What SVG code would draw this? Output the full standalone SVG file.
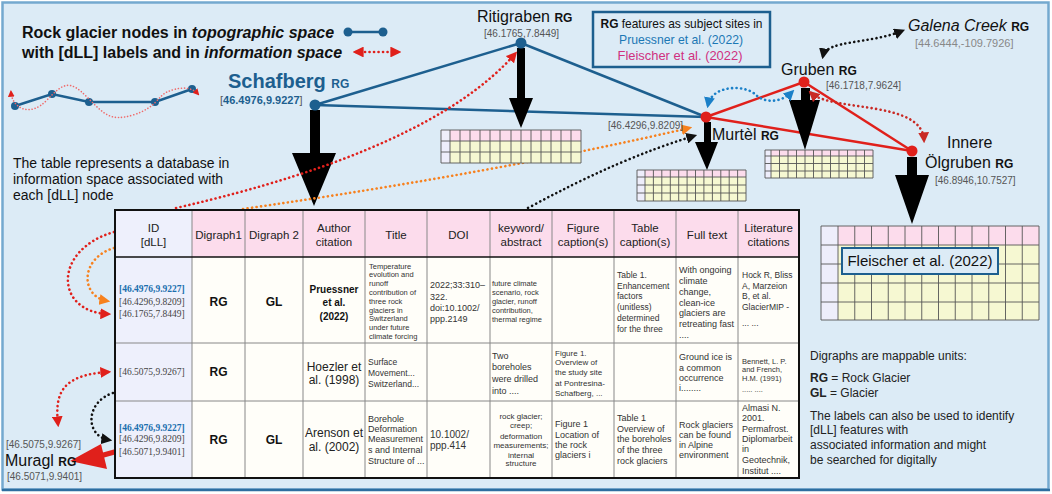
<svg xmlns="http://www.w3.org/2000/svg" width="1052" height="494" viewBox="0 0 1052 494">
<defs>
<style>
.s{font-family:"Liberation Sans",Arial,Helvetica,sans-serif}
.sf{font-family:"Liberation Serif","Times New Roman",serif}
.b{font-weight:bold}
.it{font-style:italic}
.blue{fill:#1d5f8f}
.gray{fill:#555}
.lg{fill:#888}
.eb{stroke:#1d5f8f;stroke-width:2.5;fill:none}
.er{stroke:#e0201b;stroke-width:2.5;fill:none}
.dot{fill:none;stroke-width:2.6;stroke-dasharray:0.1 4.4;stroke-linecap:round}
.dr{stroke:#e0201b}
.dr2{stroke:#c92a25}
.do{stroke:#f7811e}
.dk{stroke:#111}
.db{stroke:#1b80c8}
.grid{stroke:#555;stroke-width:0.9;fill:none}
.tl{stroke:#888;stroke-width:1;fill:none}
.hd{font-size:11.5px;fill:#222}
.t75{font-size:7.5px;fill:#333}
.t8{font-size:8px;fill:#333}
.t85{font-size:8.5px;fill:#333}
.t9{font-size:9px;fill:#333}
.id{font-size:9.5px;fill:#444}
.idb{font-size:9.5px;fill:#1b6fae;font-weight:bold}
.big{font-size:12px;font-weight:bold;fill:#111}
.lbl{font-size:16px;fill:#111}
.rg{font-size:12px;font-weight:bold}
.crd{font-size:10px;fill:#555}
</style>
<marker id="mr" viewBox="0 0 10 10" refX="7" refY="5" markerWidth="4.2" markerHeight="4.2" orient="auto-start-reverse"><path d="M0,0L10,5L0,10z" fill="#e0201b"/></marker>
<marker id="mr2" viewBox="0 0 10 10" refX="7" refY="5" markerWidth="4.2" markerHeight="4.2" orient="auto-start-reverse"><path d="M0,0L10,5L0,10z" fill="#c92a25"/></marker>
<marker id="mo" viewBox="0 0 10 10" refX="7" refY="5" markerWidth="4.2" markerHeight="4.2" orient="auto-start-reverse"><path d="M0,0L10,5L0,10z" fill="#f7811e"/></marker>
<marker id="mk" viewBox="0 0 10 10" refX="7" refY="5" markerWidth="4.2" markerHeight="4.2" orient="auto-start-reverse"><path d="M0,0L10,5L0,10z" fill="#111"/></marker>
<marker id="mb" viewBox="0 0 10 10" refX="7" refY="5" markerWidth="4.2" markerHeight="4.2" orient="auto-start-reverse"><path d="M0,0L10,5L0,10z" fill="#1b80c8"/></marker>
</defs>

<!-- background / frame -->
<rect x="0" y="0" width="1052" height="494" fill="#ffffff"/>
<rect x="2.5" y="2.5" width="1046" height="487" fill="#dcebf6" stroke="#74a9cf" stroke-width="2.5"/>
<line x1="2" y1="490" x2="1050" y2="490" stroke="#2d6ea0" stroke-width="2.5"/>

<!-- legend -->
<g id="legend">
<text class="s b" x="22" y="38" font-size="16" fill="#111">Rock glacier nodes in <tspan class="it">topographic space</tspan></text>
<text class="s b" x="22" y="58" font-size="16" fill="#111">with [dLL] labels and in <tspan class="it">information space</tspan></text>
<line x1="348" y1="32" x2="383" y2="32" class="eb"/>
<circle cx="348" cy="32" r="4.5" fill="#1d5f8f"/>
<circle cx="383" cy="32" r="4.5" fill="#1d5f8f"/>
<line x1="356" y1="52" x2="398" y2="52" class="dot dr" marker-start="url(#mr)" marker-end="url(#mr)"/>
<polyline points="15,106 52,94 89,102 155,102 192,89" class="eb"/>
<circle cx="15" cy="106" r="4" fill="#1d5f8f"/><circle cx="52" cy="94" r="4" fill="#1d5f8f"/><circle cx="89" cy="102" r="4" fill="#1d5f8f"/><circle cx="155" cy="102" r="4" fill="#1d5f8f"/><circle cx="192" cy="89" r="4" fill="#1d5f8f"/>
<path d="M11,92 C12,108 30,118 47,100 S70,80 87,97 S110,122 133,115 S158,96 167,92 S190,85 198,94" fill="none" stroke="#f06a6a" stroke-width="1.6" stroke-dasharray="0.1 3" stroke-linecap="round" marker-start="url(#mr)" marker-end="url(#mr)"/>
<text class="s" font-size="14" fill="#111"><tspan x="13" y="168">The table represents a database in</tspan><tspan x="13" y="184">information space associated with</tspan><tspan x="13" y="200">each [dLL] node</tspan></text>
</g>

<!-- subject sites box -->
<g id="sites-box">
<rect x="593" y="12" width="177" height="55" fill="#dcebf6" stroke="#1d5f8f" stroke-width="2.5"/>
<text class="s" font-size="13" fill="#111" x="681.5" y="28" text-anchor="middle" textLength="162" lengthAdjust="spacingAndGlyphs"><tspan class="b">RG</tspan> features as subject sites in</text>
<text class="s" font-size="13" fill="#1b78b5" x="681" y="44" text-anchor="middle" textLength="124" lengthAdjust="spacingAndGlyphs">Pruessner et al. (2022)</text>
<text class="s" font-size="13" fill="#d0307f" x="680" y="60" text-anchor="middle" textLength="125" lengthAdjust="spacingAndGlyphs">Fleischer et al. (2022)</text>
</g>

<!-- connectors -->
<g id="connectors">
<line x1="315" y1="105" x2="521" y2="43" class="eb"/>
<line x1="521" y1="43" x2="706" y2="117" class="eb"/>
<line x1="315" y1="105" x2="706" y2="117" class="eb"/>
<line x1="706" y1="117" x2="804" y2="82" class="er"/>
<line x1="804" y1="82" x2="912" y2="151" class="er"/>
<line x1="706" y1="117" x2="912" y2="151" class="er"/>
<!-- big black arrows -->
<g fill="#000">
<polygon points="310,110 320,110 320,153 336,153 314,206 292,153 310,153"/>
<polygon points="517,48 525,48 525,98 533,98 521,128 509,98 517,98"/>
<polygon points="704,122 711,122 711,142 718,142 707,170 695,142 704,142"/>
<polygon points="801,88 810,88 810,100 820,100 805,150 789,100 801,100"/>
<polygon points="907,157 917,157 917,175 929,175 912,224 895,175 907,175"/>
</g>
<!-- dotted info links -->
<path d="M176,208 Q430,150 515,54" class="dot dr" marker-end="url(#mr)"/>
<path d="M243,209 Q500,172 689,128" class="dot do" marker-end="url(#mo)"/>
<path d="M528,208 Q620,158 694,136" class="dot dk" marker-end="url(#mk)"/>
<path d="M708,105 C712,85 745,84 756,95 C766,104 782,102 792,92" class="dot db" marker-start="url(#mb)" marker-end="url(#mb)"/>
<path d="M811,93 C832,112 922,100 924,140" class="dot dr2" marker-start="url(#mr2)" marker-end="url(#mr2)"/>
<path d="M823,56 C826,40 870,44 902,31" class="dot dk" marker-start="url(#mk)" marker-end="url(#mk)"/>
<path d="M114,232 C52,250 55,312 108,314" class="dot dr" marker-end="url(#mr)"/>
<path d="M114,248 C80,258 80,296 107,301" class="dot do" marker-end="url(#mo)"/>
<path d="M108,372 C60,375 55,395 58,424" class="dot dr" marker-start="url(#mr)" marker-end="url(#mr)"/>
<path d="M113,393 C85,402 85,436 109,440" class="dot dk" marker-end="url(#mk)"/>
<!-- Muragl red arrow -->
<line x1="118" y1="451" x2="100" y2="456" stroke="#e0201b" stroke-width="5"/>
<polygon points="70,461 101,444 107,469" fill="#e0201b"/>
</g>

<!-- nodes -->
<g id="node-schafberg">
<circle cx="315" cy="105" r="5.5" fill="#1d5f8f"/>
<text class="s b blue" x="228" y="88" font-size="20">Schafberg <tspan font-size="12">RG</tspan></text>
<text class="s" x="220" y="104" font-size="11"><tspan class="gray">[</tspan><tspan class="b blue">46.4976,9.9227</tspan><tspan class="gray">]</tspan></text>
</g>
<g id="node-ritigraben">
<circle cx="521" cy="43" r="5.5" fill="#1d5f8f"/>
<text class="s lbl" x="477" y="22">Ritigraben <tspan class="rg">RG</tspan></text>
<text class="s crd" x="484" y="37">[46.1765,7.8449]</text>
</g>
<g id="node-murtel">
<circle cx="706" cy="117" r="5.5" fill="#e0201b"/>
<text class="s lbl" x="712" y="140">Murtèl <tspan class="rg">RG</tspan></text>
<text class="s crd" x="608" y="129">[46.4296,9.8209]</text>
</g>
<g id="node-gruben">
<circle cx="804" cy="82" r="5.5" fill="#e0201b"/>
<text class="s lbl" x="781" y="75">Gruben <tspan class="rg">RG</tspan></text>
<text class="s crd" x="826" y="89">[46.1718,7.9624]</text>
</g>
<g id="node-olgruben">
<circle cx="912" cy="151" r="5.5" fill="#e0201b"/>
<text class="s lbl" x="947" y="148">Innere</text>
<text class="s lbl" x="925" y="168">Ölgruben <tspan class="rg">RG</tspan></text>
<text class="s crd" x="935" y="184">[46.8946,10.7527]</text>
</g>
<g id="node-galena">
<text class="s lbl" x="908" y="31"><tspan class="it">Galena Creek</tspan> <tspan class="rg">RG</tspan></text>
<text class="s" x="915" y="47" font-size="11" fill="#888">[44.6444,-109.7926]</text>
</g>
<g id="node-muragl">
<text class="s crd" x="6" y="448">[46.5075,9.9267]</text>
<text class="s lbl" x="5" y="466">Muragl <tspan class="rg">RG</tspan></text>
<text class="s crd" x="7" y="480">[46.5071,9.9401]</text>
</g>

<!-- mini tables -->
<g id="table-ritigraben">
<rect x="441" y="130" width="140" height="33" fill="#f6f8d2"/>
<rect x="450" y="130" width="131" height="11" fill="#fcdcec"/>
<rect x="441" y="130" width="9" height="33" fill="#eeeefb"/>
<path class="grid" d="M441,130H581V163H441Z M441,141H581 M441,152H581 M450,130V163 M460,130V163 M470,130V163 M480,130V163 M490,130V163 M500,130V163 M511,130V163 M521,130V163 M531,130V163 M541,130V163 M551,130V163 M561,130V163 M571,130V163"/>
</g>
<g id="table-murtel">
<rect x="637" y="170" width="109" height="31" fill="#f6f8d2"/>
<rect x="645" y="170" width="101" height="7" fill="#fcdcec"/>
<rect x="637" y="170" width="8" height="31" fill="#eeeefb"/>
<path class="grid" d="M637,170H746V201H637Z M637,177H746 M637,185H746 M637,193H746 M645,170V201 M653.4,170V201 M661.8,170V201 M670.3,170V201 M678.7,170V201 M687.1,170V201 M695.5,170V201 M703.9,170V201 M712.4,170V201 M720.8,170V201 M729.2,170V201 M737.6,170V201"/>
</g>
<g id="table-gruben">
<rect x="765" y="150" width="108" height="28" fill="#f6f8d2"/>
<rect x="771" y="150" width="102" height="6" fill="#fcdcec"/>
<rect x="765" y="150" width="6" height="28" fill="#eeeefb"/>
<path class="grid" d="M765,150H873V178H765Z M765,156H873 M765,163.5H873 M765,171H873 M771,150V178 M779.5,150V178 M788,150V178 M796.5,150V178 M805,150V178 M813.5,150V178 M822,150V178 M830.5,150V178 M839,150V178 M847.5,150V178 M856,150V178 M864.5,150V178"/>
</g>
<g id="table-fleischer">
<rect x="821" y="226" width="218" height="94" fill="#f6f8d2"/>
<rect x="838" y="226" width="201" height="19" fill="#fcdcec"/>
<rect x="821" y="226" width="17" height="94" fill="#eeeefb"/>
<path class="grid" d="M821,226H1039V320H821Z M821,245H1039 M821,264H1039 M821,283H1039 M821,302H1039 M838,226V320 M854.75,226V320 M871.5,226V320 M888.25,226V320 M905,226V320 M921.75,226V320 M938.5,226V320 M955.25,226V320 M972,226V320 M988.75,226V320 M1005.5,226V320 M1022.25,226V320"/>
<rect x="842" y="248" width="156" height="26" fill="#dcebf6" stroke="#1d5f8f" stroke-width="2"/>
<text class="s" x="920" y="266" font-size="15" fill="#111" text-anchor="middle">Fleischer et al. (2022)</text>
</g>

<!-- main table -->
<g id="main-table">
<rect x="115" y="210" width="684" height="268" fill="#fffef9"/>
<rect x="115" y="210" width="684" height="47" fill="#fcdcec"/>
<rect x="115" y="210" width="77" height="268" fill="#eef0fc"/>
<path class="tl" d="M192,210V478 M245,210V478 M303,210V478 M365,210V478 M427,210V478 M490,210V478 M552,210V478 M614,210V478 M676,210V478 M738,210V478 M115,343H799 M115,401H799"/>
<line x1="115" y1="257" x2="799" y2="257" stroke="#111" stroke-width="1.5"/>
<rect x="115" y="210" width="684" height="268" fill="none" stroke="#111" stroke-width="2"/>
<!-- header -->
<g class="s hd" text-anchor="middle">
<text x="153.5" y="232">ID</text><text x="153.5" y="246">[dLL]</text>
<text x="218.5" y="239">Digraph1</text>
<text x="274" y="239">Digraph 2</text>
<text x="334" y="232">Author</text><text x="334" y="246">citation</text>
<text x="396" y="239">Title</text>
<text x="458.5" y="239">DOI</text>
<text x="521" y="232">keyword/</text><text x="521" y="246">abstract</text>
<text x="583" y="232">Figure</text><text x="583" y="246">caption(s)</text>
<text x="645" y="232">Table</text><text x="645" y="246">caption(s)</text>
<text x="707" y="239">Full text</text>
<text x="768.5" y="232">Literature</text><text x="768.5" y="246">citations</text>
</g>
<!-- row 1 -->
<text class="sf idb" x="119" y="292">[46.4976,9.9227]</text>
<text class="sf id" x="119" y="305">[46.4296,9.8209]</text>
<text class="sf id" x="119" y="317">[46.1765,7.8449]</text>
<text class="s big" x="218.5" y="306" text-anchor="middle">RG</text>
<text class="s big" x="274" y="306" text-anchor="middle">GL</text>
<text class="s b" font-size="10" fill="#111" text-anchor="middle"><tspan x="334" y="293">Pruessner</tspan><tspan x="334" y="306">et al.</tspan><tspan x="334" y="320">(2022)</tspan></text>
<text class="s t75"><tspan x="369" y="268.5">Temperature</tspan><tspan x="369" y="277.3">evolution and</tspan><tspan x="369" y="286.1">runoff</tspan><tspan x="369" y="294.9">contribution of</tspan><tspan x="369" y="303.7">three rock</tspan><tspan x="369" y="312.5">glaciers in</tspan><tspan x="369" y="321.3">Switzerland</tspan><tspan x="369" y="330.1">under future</tspan><tspan x="369" y="338.9">climate forcing</tspan></text>
<text class="s t9"><tspan x="430" y="288">2022;33:310–</tspan><tspan x="430" y="299.5">322.</tspan><tspan x="430" y="311">doi:10.1002/</tspan><tspan x="430" y="322">ppp.2149</tspan></text>
<text class="s t75"><tspan x="492" y="285.5">future climate</tspan><tspan x="492" y="294.5">scenario, rock</tspan><tspan x="492" y="303.5">glacier, runoff</tspan><tspan x="492" y="312.5">contribution,</tspan><tspan x="492" y="321.5">thermal regime</tspan></text>
<text class="s t85"><tspan x="617" y="278">Table 1.</tspan><tspan x="617" y="288.5">Enhancement</tspan><tspan x="617" y="299">factors</tspan><tspan x="617" y="310">(unitless)</tspan><tspan x="617" y="321">determined</tspan><tspan x="617" y="332">for the three</tspan></text>
<text class="s t9"><tspan x="679" y="273">With ongoing</tspan><tspan x="679" y="284">climate</tspan><tspan x="679" y="294.5">change,</tspan><tspan x="679" y="305.5">clean-ice</tspan><tspan x="679" y="316">glaciers are</tspan><tspan x="679" y="327">retreating fast</tspan><tspan x="679" y="338">....</tspan></text>
<text class="s t85"><tspan x="742" y="278">Hock R, Bliss</tspan><tspan x="742" y="289">A, Marzeion</tspan><tspan x="742" y="299">B, et al.</tspan><tspan x="742" y="310">GlacierMIP -</tspan><tspan x="742" y="326">... ...</tspan></text>
<!-- row 2 -->
<text class="sf id" x="119" y="375">[46.5075,9.9267]</text>
<text class="s big" x="218.5" y="376" text-anchor="middle">RG</text>
<text class="s" font-size="12" fill="#222" text-anchor="middle"><tspan x="334" y="371">Hoezler et</tspan><tspan x="334" y="384">al. (1998)</tspan></text>
<text class="s t85"><tspan x="368" y="365">Surface</tspan><tspan x="368" y="376">Movement...</tspan><tspan x="368" y="387">Switzerland...</tspan></text>
<text class="s t9"><tspan x="492" y="359">Two</tspan><tspan x="492" y="370">boreholes</tspan><tspan x="492" y="382">were drilled</tspan><tspan x="492" y="394">into ....</tspan></text>
<text class="s t8"><tspan x="555" y="356">Figure 1.</tspan><tspan x="555" y="365">Overview of</tspan><tspan x="555" y="375">the study site</tspan><tspan x="555" y="386">at Pontresina-</tspan><tspan x="555" y="396">Schafberg, ...</tspan></text>
<text class="s t9"><tspan x="679" y="360">Ground ice is</tspan><tspan x="679" y="371">a common</tspan><tspan x="679" y="381">occurrence</tspan><tspan x="679" y="391">i........</tspan></text>
<text class="s t75"><tspan x="742" y="363.5">Bennett, L. P.</tspan><tspan x="742" y="371.5">and French,</tspan><tspan x="742" y="380.5">H.M. (1991)</tspan><tspan x="742" y="391.5">..... ....</tspan></text>
<!-- row 3 -->
<text class="sf idb" x="119" y="431">[46.4976,9.9227]</text>
<text class="sf id" x="119" y="442">[46.4296,9.8209]</text>
<text class="sf id" x="119" y="455">[46.5071,9.9401]</text>
<text class="s big" x="218.5" y="444" text-anchor="middle">RG</text>
<text class="s big" x="274" y="444" text-anchor="middle">GL</text>
<text class="s" font-size="12" fill="#222" text-anchor="middle"><tspan x="334" y="437">Arenson et</tspan><tspan x="334" y="451">al. (2002)</tspan></text>
<text class="s t9"><tspan x="368" y="422">Borehole</tspan><tspan x="368" y="432">Deformation</tspan><tspan x="368" y="442">Measurement</tspan><tspan x="368" y="453">s and Internal</tspan><tspan x="368" y="464">Structure of ...</tspan></text>
<text class="s" font-size="10" fill="#333"><tspan x="430" y="437.5">10.1002/</tspan><tspan x="430" y="448.5">ppp.414</tspan></text>
<text class="s t8" text-anchor="middle"><tspan x="521" y="419">rock glacier;</tspan><tspan x="521" y="428">creep;</tspan><tspan x="521" y="439">deformation</tspan><tspan x="521" y="448">measurements;</tspan><tspan x="521" y="458">internal</tspan><tspan x="521" y="466">structure</tspan></text>
<text class="s t9"><tspan x="555" y="427">Figure 1</tspan><tspan x="555" y="438">Location of</tspan><tspan x="555" y="448">the rock</tspan><tspan x="555" y="458">glaciers i</tspan></text>
<text class="s t9"><tspan x="617" y="421">Table 1</tspan><tspan x="617" y="432">Overview of</tspan><tspan x="617" y="442">the boreholes</tspan><tspan x="617" y="453">of the three</tspan><tspan x="617" y="464">rock glaciers</tspan></text>
<text class="s t9"><tspan x="679" y="428">Rock glaciers</tspan><tspan x="679" y="438">can be found</tspan><tspan x="679" y="448">in Alpine</tspan><tspan x="679" y="458">environment</tspan></text>
<text class="s t9"><tspan x="742" y="411">Almasi N.</tspan><tspan x="742" y="421">2001.</tspan><tspan x="742" y="432">Permafrost.</tspan><tspan x="742" y="442">Diplomarbeit</tspan><tspan x="742" y="452">in</tspan><tspan x="742" y="463">Geotechnik,</tspan><tspan x="742" y="474">Institut ....</tspan></text>
</g>

<!-- notes -->
<g id="notes" class="s" font-size="12" fill="#222">
<text x="810" y="360">Digraphs are mappable units:</text>
<text x="810" y="382"><tspan font-weight="bold">RG</tspan> = Rock Glacier</text>
<text x="810" y="397"><tspan font-weight="bold">GL</tspan> = Glacier</text>
<text x="810" y="420">The labels can also be used to identify</text>
<text x="810" y="434">[dLL] features with</text>
<text x="810" y="449">associated information and might</text>
<text x="810" y="464">be searched for digitally</text>
</g>
</svg>
